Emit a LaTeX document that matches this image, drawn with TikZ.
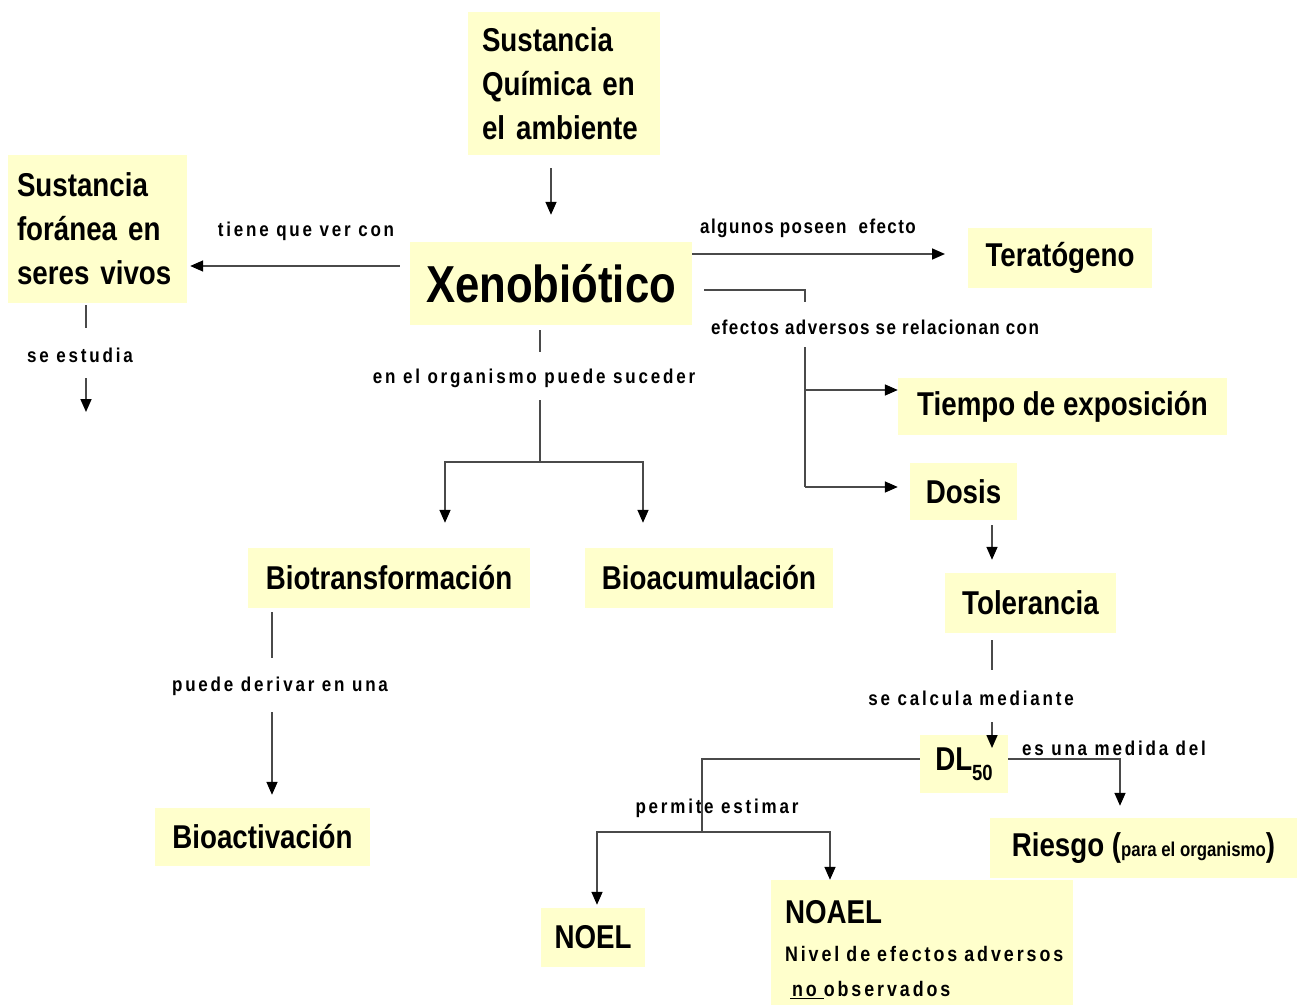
\documentclass[tikz,border=0pt]{standalone}
\usepackage{fontspec}
\setmainfont{Liberation Sans}
\newfontfamily\boxf[FakeStretch=0.84]{Liberation Sans}
\newfontfamily\lblf[FakeStretch=0.85,LetterSpace=7]{Liberation Sans}
\newfontfamily\lblw[FakeStretch=0.85,LetterSpace=14]{Liberation Sans}
\usetikzlibrary{arrows.meta}
\definecolor{boxy}{HTML}{FFFFCC}
\definecolor{linec}{HTML}{4A4A4A}
\begin{document}
\begin{tikzpicture}[x=1pt,y=-1pt,
  box/.style={fill=boxy, inner sep=0pt, text=black,
    font=\boxf\bfseries\fontsize{33}{44}\selectfont},
  lbl/.style={font=\lblw\bfseries\fontsize{20}{22}\selectfont, inner sep=1pt, text=black},
  lbln/.style={lbl, font=\lblf\bfseries\fontsize{20}{22}\selectfont},
  ln/.style={draw=linec, line width=1.6pt},
  arr/.style={ln, -{Triangle[length=13pt,width=11pt,color=black]}}]
\useasboundingbox[fill=white] (0,0) rectangle (1299,1006);

% boxes
\node[box, minimum width=192pt, minimum height=143pt, text width=164pt, align=left] (quim) at (564,83.5)
  {Sustancia\\Química en\\el ambiente};
\node[box, minimum width=179pt, minimum height=148pt, text width=161pt, align=left] (foranea) at (97.5,229)
  {Sustancia\\foránea en\\seres vivos};
\node[box, minimum width=282pt, minimum height=83pt, font=\boxf\bfseries\fontsize{52}{56}\selectfont] (xeno) at (551,283.5) {Xenobiótico};
\node[box, minimum width=184pt, minimum height=60pt] (tera) at (1060,258) {Teratógeno};
\node[box, minimum width=329pt, minimum height=57pt] (tiempo) at (1062.5,406.5) {Tiempo de exposición};
\node[box, minimum width=107pt, minimum height=57pt] (dosis) at (963.5,491.5) {Dosis};
\node[box, minimum width=171pt, minimum height=60pt] (tol) at (1030.5,603) {Tolerancia};
\node[box, minimum width=88pt, minimum height=58pt] (dl) at (964,764)
  {DL\raisebox{-10pt}{\boxf\bfseries\fontsize{22}{22}\selectfont 50}};
\node[box, minimum width=307pt, minimum height=60pt] (riesgo) at (1143.5,848)
  {Riesgo ({\fontsize{20}{20}\selectfont para el organismo})};
\node[box, minimum width=104pt, minimum height=59pt] (noel) at (593,937.5) {NOEL};
\node[box, minimum width=302pt, minimum height=125pt, text width=274pt, align=left,
      font=\lblw\bfseries\fontsize{21}{35}\selectfont] (noael) at (922,942.5)
  {\rule{0pt}{38pt}{\boxf\bfseries\fontsize{33}{33}\selectfont NOAEL}\\[3pt]
   Nivel de efectos adversos\\
   \hspace{5pt}\underline{\hspace{2pt}no\hspace{7pt}}observados};
\node[box, minimum width=282pt, minimum height=60pt] (biot) at (389,578) {Biotransformación};
\node[box, minimum width=248pt, minimum height=60pt] (bioac) at (709,578) {Bioacumulación};
\node[box, minimum width=215pt, minimum height=58pt] (bioact) at (262.5,837) {Bioactivación};

% labels
\node[lbl] (ltiene) at (306,231) {tiene que ver con};
\node[lbl] (lest) at (80,355) {se estudia};
\node[lbln] (lalg) at (808,228) {algunos poseen\ \ efecto};
\node[lbln] (lefe) at (875,327) {efectos adversos se relacionan con};
\node[lbl] (lorg) at (534,378) {en el organismo puede suceder};
\node[lbl] (lder) at (280,686) {puede derivar en una};
\node[lbl] (lcal) at (971,698) {se calcula mediante};
\node[lbl] (lmed) at (1114,748) {es una medida del};
\node[lbl] (lper) at (717,808) {permite estimar};

% helper coordinates
\coordinate (c266) at (0,266);
\coordinate (c254) at (0,254);
\coordinate (c290) at (0,290);
\coordinate (c390) at (0,390);
\coordinate (c487) at (0,487);
\coordinate (c759) at (0,759);
\coordinate (c86) at (86,0);
\coordinate (c540) at (540,0);
\coordinate (c445) at (445,0);
\coordinate (c643) at (643,0);
\coordinate (c272) at (272,0);
\coordinate (c992) at (992,0);
\coordinate (c1120) at (1120,0);
\coordinate (c597) at (597,0);
\coordinate (c830) at (830,0);
\coordinate (est) at (86,412);
\coordinate (tera-in) at (945,254);
\coordinate (efj) at (805,302);
\coordinate (efb) at (805,347);
\coordinate (efc) at (805,487);
\coordinate (dlin) at (992,748);
\coordinate (dlj) at (702,832);
\coordinate (orgj) at (540,462);

% connectors
\draw[arr, shorten <=13pt, shorten >=27pt] (quim.south -| xeno.north) -- (xeno.north);
\draw[arr, shorten <=10pt, shorten >=3pt] (xeno.west |- c266) -- (foranea.east |- c266);
\draw[ln, shorten <=2pt] (foranea.south -| c86) -- ++(0,25);
\draw[arr] (86,378) -- (est);
\draw[arr] (xeno.east |- c254) -- (tera-in);
\draw[ln, shorten <=12pt] (xeno.east |- c290) -- (805,290) -- (efj);
\draw[ln] (efb) -- (efc);
\draw[arr] (efb |- c390) -- (tiempo.west |- c390);
\draw[arr, shorten >=12pt] (efc) -- (dosis.west |- c487);
\draw[arr, shorten <=5pt, shorten >=13pt] (dosis.south -| c992) -- (tol.north -| c992);
\draw[ln, shorten <=7pt] (tol.south -| c992) -- ++(0,37);
\draw[arr] (992,722) -- (dlin);
\draw[arr, shorten >=12pt] (dl.east |- c759) -- (c1120 |- c759) -- (riesgo.north -| c1120);
\draw[ln] (dl.west |- c759) -- (dlj |- c759) -- (dlj);
\draw[arr, shorten >=3pt] (dlj) -| (noel.north -| c597);
\draw[arr] (dlj) -| (noael.north -| c830);
\draw[ln, shorten <=5pt] (xeno.south -| c540) -- ++(0,27);
\draw[ln] (540,400) -- (orgj);
\draw[arr, shorten >=25pt] (orgj) -| (biot.north -| c445);
\draw[arr, shorten >=25pt] (orgj) -| (bioac.north -| c643);
\draw[ln, shorten <=4pt] (biot.south -| c272) -- ++(0,50);
\draw[arr, shorten >=13pt] (272,712) -- (bioact.north -| c272);
\end{tikzpicture}
\end{document}
